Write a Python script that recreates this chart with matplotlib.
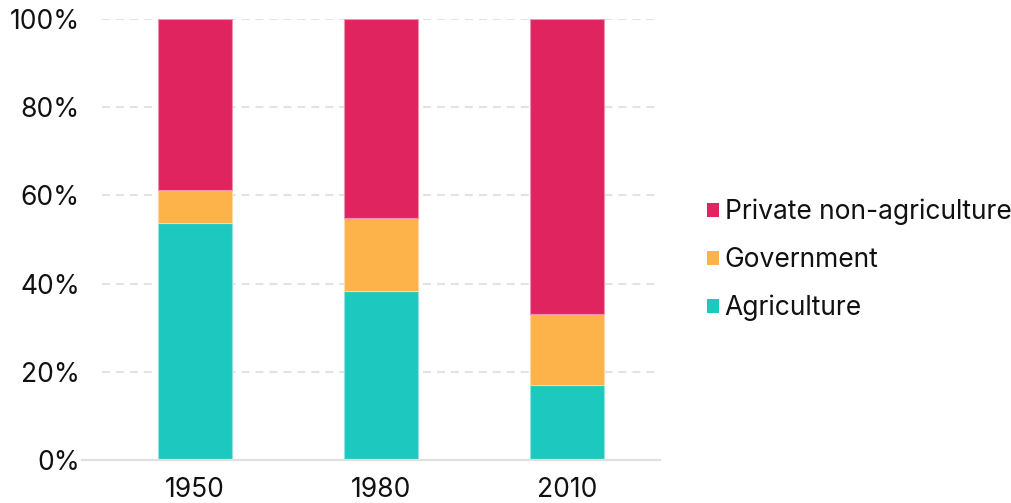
import matplotlib
matplotlib.use("Agg")
from matplotlib import pyplot as plt
from matplotlib.patches import Patch
import numpy as np

plt.rcParams['font.family'] = ['Inter', 'DejaVu Sans']

years = ['1950', '1980', '2010']
agriculture = [53.7, 38.3, 17.0]
government = [7.5, 16.6, 16.1]
private = [38.8, 45.1, 66.9]

series_names = ['Agriculture', 'Government', 'Private non-agriculture']
colors = ['#1DC8BE', '#FEB24A', '#E02460']
edges = ['#8FE3DE', '#FFD9A4', '#EF91AF']

fig = plt.figure(figsize=(10.11, 5.03), dpi=100)
ax = fig.add_axes([0.1009, 0.0855, 0.5519, 0.8767])

x = np.arange(len(years))
bottom = np.zeros(len(years))
for vals, c, ec in zip([agriculture, government, private], colors, edges):
    ax.bar(x, vals, width=0.403, bottom=bottom, color=c, edgecolor=ec,
           linewidth=0.8, zorder=3)
    bottom += np.array(vals)

ax.set_xlim(-0.5, 2.5)
ax.set_ylim(0, 100)
ax.set_yticks([0, 20, 40, 60, 80, 100])
ax.set_yticklabels([f'{v}%' for v in [0, 20, 40, 60, 80, 100]])
ax.set_xticks(x)
ax.set_xticklabels(years)

for v in [20, 40, 60, 80, 100]:
    ln = ax.axhline(v, color='#E3E3E3', linewidth=1.5, zorder=1)
    ln.set_dashes([3.8, 2.9])

ax.plot([-0.61, 2.5], [0, 0], color='#E0E0E0', linewidth=1.6,
        clip_on=False, zorder=4)

for s in ax.spines.values():
    s.set_visible(False)
ax.tick_params(axis='both', length=0, labelsize=19, colors='#111111')
ax.tick_params(axis='y', pad=16)
ax.tick_params(axis='x', pad=12)

handles = [Patch(facecolor=c, edgecolor='none') for c in colors[::-1]]
leg = fig.legend(handles, series_names[::-1], loc='center left',
                 bbox_to_anchor=(0.699, 0.483), frameon=False,
                 fontsize=19, handlelength=0.45, handleheight=0.45,
                 handletextpad=0.23, labelspacing=0.83, borderpad=0,
                 borderaxespad=0)
for t in leg.get_texts():
    t.set_color('#111111')

fig.savefig('out.png', dpi=100)
